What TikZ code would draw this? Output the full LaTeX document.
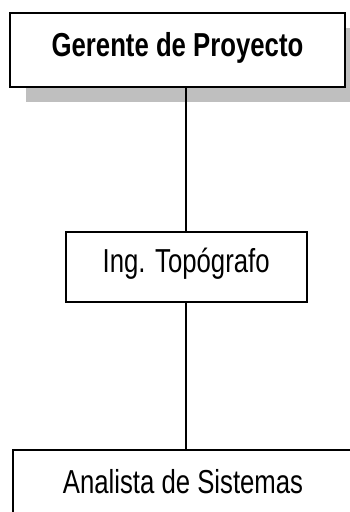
\documentclass[tikz,border=0pt]{standalone}
\usepackage{fontspec}
\setmainfont{Liberation Sans}[FakeStretch=0.775]
\usetikzlibrary{
  positioning,          % relative node placement
  shadows,              % drop shadow behind the top box
}

\begin{document}
\begin{tikzpicture}[
  puesto/.style={draw, fill=white, line width=1.4pt, font=\fontsize{25pt}{29pt}\selectfont,
    inner sep=0pt, text height=18pt, text depth=8.5pt},
  jefe/.style={puesto, font=\fontsize{25pt}{29pt}\selectfont\bfseries,
    drop shadow={shadow xshift=0.423cm, shadow yshift=-0.397cm, fill=black!25, opacity=1}},
  enlace/.style={line width=1.4pt},
]
  \useasboundingbox (0,0) rectangle (9.26,13.547);
  % Organigrama
  \node[jefe, minimum width=8.864cm, minimum height=1.958cm]
    (gerente) at (4.696, 12.224) {Gerente de Proyecto};
  \node[puesto, minimum width=6.376cm, minimum height=1.852cm]
    (topografo) at (4.926, 6.491) {Ing. Topógrafo};
  \node[puesto, minimum width=8.996cm, minimum height=1.958cm]
    (analista) at (4.842, 0.662) {Analista de Sistemas};
  % Lineas de mando
  \draw[enlace] (topografo.north) -- (topografo.north |- gerente.south);
  \draw[enlace] (topografo.south) -- (topografo.south |- analista.north);
\end{tikzpicture}
\end{document}
